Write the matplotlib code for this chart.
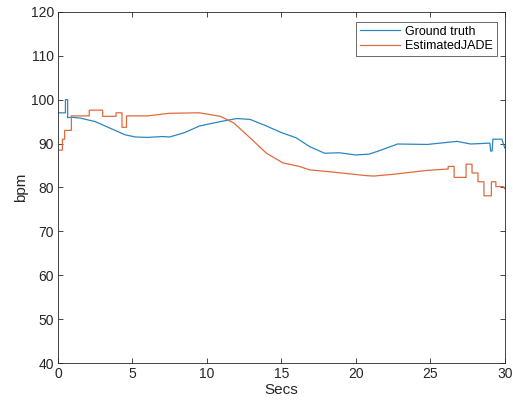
import numpy as np
import matplotlib
matplotlib.use('Agg')
import matplotlib.pyplot as plt

plt.rcParams['font.family'] = ['Liberation Sans', 'DejaVu Sans']

# ground truth heart rate
t_gt = [0, 0.5, 0.5, 0.65, 0.65, 0.9, 1.5, 2.5, 3.5, 4.5, 5.2, 6, 7, 7.5, 8.5, 9.5,
        10.9, 12, 12.9, 14, 15, 16, 16.9, 17.9, 18.9, 20, 20.9, 21.6, 22.8, 24.8,
        26.8, 27.7, 29, 29.05, 29.15, 29.2, 29.8, 30]
bpm_gt = [97, 97, 100, 100, 95.9, 96, 95.8, 95, 93.5, 92, 91.5, 91.4, 91.6, 91.5, 92.5, 94,
          95, 95.7, 95.5, 94, 92.5, 91.3, 89.3, 87.8, 87.9, 87.4, 87.6, 88.4, 89.9, 89.8,
          90.5, 89.9, 90.1, 88.3, 88.3, 91.0, 91.0, 89]

# estimated (JADE)
t_est = [0, 0.3, 0.3, 0.45, 0.45, 0.9, 0.9, 2.1, 2.1, 3.0, 3.0, 3.9, 3.9, 4.3, 4.3, 4.6,
         4.6, 6, 7.5, 9.5, 10.9, 11.8, 12.9, 14, 15.1, 16.2, 16.9, 18.5, 20.7, 21.2,
         22.5, 24.8, 26.2, 26.2, 26.6, 26.6, 27.4, 27.4, 27.8, 27.8, 28.2, 28.2, 28.6,
         28.6, 29.1, 29.1, 29.4, 29.4, 29.9, 30]
bpm_est = [88.5, 88.5, 91, 91, 93, 93, 96.3, 96.3, 97.6, 97.6, 96.2, 96.2, 97, 97, 93.7, 93.7,
           96.3, 96.3, 96.9, 97, 96.2, 94.7, 91.3, 87.8, 85.6, 84.8, 84, 83.5, 82.7, 82.6,
           83.0, 83.9, 84.2, 84.8, 84.8, 82.3, 82.3, 85.3, 85.3, 83.3, 83.3, 81.3, 81.3,
           78.1, 78.1, 81.3, 81.3, 80.2, 80.2, 79.7]

fig = plt.figure(figsize=(5.13, 4.08), dpi=100)
ax = fig.add_axes([0.113, 0.110, 0.871, 0.861])

ax.plot(t_gt, bpm_gt, color='#2A86C2', lw=0.9, label='Ground truth')
ax.plot(t_est, bpm_est, color='#DE6B3E', lw=0.9, label='EstimatedJADE')

ax.set_xlim(0, 30)
ax.set_ylim(40, 120)
ax.set_xticks(np.arange(0, 31, 5))
ax.set_yticks(np.arange(40, 121, 10))
ax.tick_params(direction='in', top=True, right=True, length=3.5, width=0.6,
               labelsize=10, colors='#262626', pad=3)
for s in ax.spines.values():
    s.set_color('#262626')
    s.set_linewidth(0.6)

ax.set_xlabel('Secs', fontsize=11, color='#262626', labelpad=1)
ax.set_ylabel('bpm', fontsize=11, color='#262626', labelpad=2)

leg = ax.legend(loc='upper right', bbox_to_anchor=(0.982, 0.971), fontsize=9,
                frameon=True, fancybox=False, edgecolor='#262626', handlelength=3.2,
                borderaxespad=0, borderpad=0.3, labelspacing=0.2, handletextpad=0.4)
leg.get_frame().set_linewidth(0.6)

fig.savefig('out.png', dpi=100)
